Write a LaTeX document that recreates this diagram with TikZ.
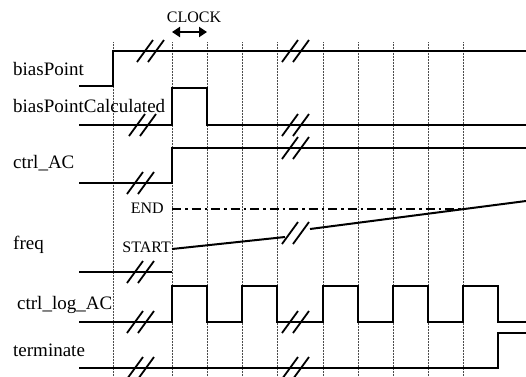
\documentclass[tikz,border=0pt]{standalone}
\usepackage{fontspec}
\setmainfont{Liberation Serif}
\usetikzlibrary{arrows.meta}

\tikzset{
  sig/.style={line width=2.4pt, line join=miter},
  gridline/.style={densely dotted, line width=0.5pt, black!70},
  brk/.style={line width=1.8pt},
  lbl/.style={font=\fontsize{19}{21}\selectfont, anchor=base west, inner sep=0pt},
  tag/.style={font=\fontsize{16}{18}\selectfont, inner sep=0pt},
}

% break mark "//" centred at (#1,#2)
\newcommand{\brkmark}[2]{%
  \draw[brk] (#1-14,#2+11) -- (#1+2,#2-11);
  \draw[brk] (#1-3,#2+11) -- (#1+13,#2-11);}

\begin{document}
\begin{tikzpicture}[x=1pt, y=-1pt, line cap=butt]

  \useasboundingbox (0,0) rectangle (526,376);

  % ===== 時間軸 =====
  \foreach \t in {113,172,207,242,277,323,358,393,428,463}
    \draw[gridline] (\t,42) -- (\t,376);

  % ===== CLOCK =====
  \node[tag, anchor=base] (clock) at (194,22) {CLOCK};
  \draw[{Triangle[width=10pt,length=8pt]}-{Triangle[width=10pt,length=8pt]}, line width=2pt]
    (172,32) -- (207,32);

  % ===== ラベル =====
  \node[lbl] (biaspoint) at (13,75) {biasPoint};
  \node[lbl] (biascalc) at (13,112) {biasPointCalculated};
  \node[lbl] (ctrlac) at (13,168) {ctrl\_AC};
  \node[lbl] (freq) at (13,249) {freq};
  \node[lbl] (ctrllogac) at (17,309) {ctrl\_log\_AC};
  \node[lbl] (terminate) at (13,356) {terminate};

  \node[tag, anchor=base east] (endlbl) at (164,213) {END};
  \node[tag, anchor=base east] (startlbl) at (171,252) {START};

  % ===== 信号 =====
  \draw[sig] (79,86) -| (113,51) -- (526,51);
  \draw[sig] (79,125) -- (172,125) |- (207,88) |- (526,125);
  \draw[sig] (79,183) -- (172,183) |- (526,148);

  \draw[sig] (79,272) -- (172,272);
  \draw[line width=2pt] (172,249) -- (285,237);
  \draw[line width=2pt] (310,229) -- (526,201);
  \draw[line width=1.6pt, dash pattern=on 9pt off 4pt on 2.5pt off 4pt]
    (172,209) -- (463,209);

  \draw[sig] (79,322) -- (172,322)
    |- (207,286) |- (242,322) |- (277,286) |- (323,322)
    |- (358,286) |- (393,322) |- (428,286) |- (463,322)
    |- (498,286) |- (526,322);

  \draw[sig] (79,368) -- (498,368) |- (526,333);

  % ===== 省略記号 =====
  \brkmark{151}{51}
  \brkmark{296}{51}
  \brkmark{143}{125}
  \brkmark{296}{125}
  \brkmark{141}{183}
  \brkmark{296}{148}
  \brkmark{141}{272}
  \brkmark{296}{233}
  \brkmark{141}{322}
  \brkmark{296}{322}
  \brkmark{141}{368}
  \brkmark{296}{368}

\end{tikzpicture}
\end{document}
